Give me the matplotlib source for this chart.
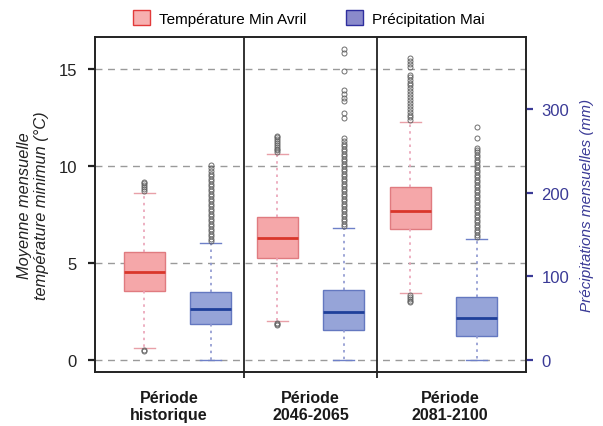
import matplotlib
matplotlib.use("Agg")
import matplotlib.pyplot as plt
from matplotlib.patches import Patch

plt.rcParams['font.family'] = ['Liberation Sans', 'DejaVu Sans']

# ---------------- data ----------------
periods = ["Période\nhistorique", "Période\n2046-2065", "Période\n2081-2100"]
series_names = ["Température Min Avril", "Précipitation Mai"]

# Temperature (°C) box stats per period
temp_q1 = [3.54, 5.24, 6.75]
temp_med = [4.55, 6.27, 7.70]
temp_q3 = [5.55, 7.36, 8.93]
temp_wlo = [0.60, 1.99, 3.44]
temp_whi = [8.60, 10.60, 12.28]
temp_fliers_hist = [0.45, 0.50, 8.70, 8.80, 8.90, 9.00, 9.10, 9.15]
temp_fliers_2046 = [1.78, 1.85, 1.90, 10.7, 10.8, 10.9, 11.0, 11.1, 11.2, 11.3, 11.4, 11.5, 11.55]
temp_fliers_2081 = [2.97, 3.05, 3.15, 3.25, 3.35, 12.35, 12.5, 12.65, 12.8, 12.95, 13.1, 13.25,
                    13.4, 13.55, 13.7, 13.85, 14.0, 14.15, 14.3, 14.45, 14.6, 14.7,
                    15.1, 15.25, 15.4, 15.55]

# Precipitation (mm) box stats per period
prec_q1 = [42.7, 35.5, 28.7]
prec_med = [61.0, 57.9, 50.0]
prec_q3 = [81.8, 83.8, 75.0]
prec_wlo = [0.0, 0.0, 0.0]
prec_whi = [139.7, 157.7, 144.9]
prec_fliers_hist = [142, 145, 148, 151, 154, 157, 160, 163, 166, 169, 172, 175, 178, 181, 184,
                    187, 190, 193, 196, 199, 202, 205, 208, 211, 214, 217, 220, 223, 226, 230, 233]
prec_fliers_2046 = [160, 163, 166, 169, 172, 175, 178, 181, 184, 187, 190, 193, 196, 199, 202,
                    205, 208, 211, 214, 217, 220, 223, 226, 229, 232, 235, 238, 241, 244, 247,
                    250, 253, 256, 259, 262, 266, 290, 296, 310, 314, 318, 323, 346, 368, 373]
prec_fliers_2081 = [147, 150, 153, 156, 159, 162, 165, 168, 171, 174, 177, 180, 183, 186, 189,
                    192, 195, 198, 201, 204, 207, 210, 213, 216, 219, 222, 225, 228, 231, 234,
                    237, 240, 243, 246, 249, 252, 254, 266, 279]

temp_fliers = [temp_fliers_hist, temp_fliers_2046, temp_fliers_2081]
prec_fliers = [prec_fliers_hist, prec_fliers_2046, prec_fliers_2081]

# ---------------- figure ----------------
fig = plt.figure(figsize=(6.03, 4.27), dpi=100)
ax = fig.add_axes([0.1575, 0.1265, 0.7148, 0.7845])
ax2 = ax.twinx()

temp_stats = [dict(q1=temp_q1[i], med=temp_med[i], q3=temp_q3[i], whislo=temp_wlo[i],
                   whishi=temp_whi[i], fliers=temp_fliers[i]) for i in range(3)]
prec_stats = [dict(q1=prec_q1[i], med=prec_med[i], q3=prec_q3[i], whislo=prec_wlo[i],
                   whishi=prec_whi[i], fliers=prec_fliers[i]) for i in range(3)]

temp_pos = [1, 3, 5]
prec_pos = [2, 4, 6]
label_pos = [1.37, 3.5, 5.6]
bw = 0.62

flier = dict(marker='o', markersize=3.6, markerfacecolor='none', markeredgecolor='#5e5e5e',
             markeredgewidth=0.7, alpha=0.9)

ax.bxp(temp_stats, positions=temp_pos, widths=bw, patch_artist=True,
       boxprops=dict(facecolor='#F5A7A9', edgecolor='#E07B80', linewidth=1.0),
       medianprops=dict(color='#D9362B', linewidth=2.0),
       whiskerprops=dict(color='#EAA2B6', linestyle=(0, (1.5, 2.5)), linewidth=1.2),
       capprops=dict(color='#E8A0A8', linewidth=1.0),
       flierprops=flier, capwidths=0.32, zorder=3)

ax2.bxp(prec_stats, positions=prec_pos, widths=bw, patch_artist=True,
        boxprops=dict(facecolor='#96A4D8', edgecolor='#6478C0', linewidth=1.0),
        medianprops=dict(color='#1F3F9A', linewidth=2.0),
        whiskerprops=dict(color='#8C96D0', linestyle=(0, (1.5, 2.5)), linewidth=1.2),
        capprops=dict(color='#6E80C8', linewidth=1.0),
        flierprops=flier, capwidths=0.32, zorder=3)

# axes limits & grid
ax.set_xlim(0.26, 6.74)
ax.set_ylim(-0.62, 16.65)
ax2.set_ylim(-14.4, 386.8)

for y in [0, 5, 10, 15]:
    ax.axhline(y, color='#9a9a9a', linestyle=(0, (5, 4)), linewidth=1.0, zorder=1)

for xd in [2.5, 4.5]:
    ax.axvline(xd, color='#222222', linewidth=1.3, zorder=4)

# ticks
ax.set_yticks([0, 5, 10, 15])
ax.set_yticklabels(['0', '5', '10', '15'])
ax.tick_params(axis='y', direction='out', length=5, width=1.6, labelsize=12, pad=8,
               colors='#222222')
ax.set_xticks([2.5, 4.5])
ax.set_xticklabels(['', ''])
ax.tick_params(axis='x', direction='out', length=4, width=1.3, colors='#222222')

ax2.set_yticks([0, 100, 200, 300])
ax2.tick_params(axis='y', direction='out', length=5, width=1.6, labelsize=12, pad=6,
                colors='#3A3A96')

for sp in list(ax.spines.values()) + list(ax2.spines.values()):
    sp.set_linewidth(1.2)
    sp.set_color('#222222')

# group labels
for i, lab in enumerate(periods):
    ax.text(label_pos[i], -1.55, lab, ha='center', va='top', fontsize=11.5,
            fontweight='bold', color='#1a1a1a', linespacing=1.15,
            transform=ax.transData)

# axis labels
ax.set_ylabel("Moyenne mensuelle\ntempérature minimun (°C)", fontsize=11.8,
              fontstyle='italic', color='#222222', labelpad=7, linespacing=1.15)
ax2.set_ylabel("Précipitations mensuelles (mm)", fontsize=11, fontstyle='italic',
               color='#3A3A96', labelpad=8)

# legend
handles = [Patch(facecolor='#F7B0B0', edgecolor='#E23A3A', linewidth=1.0),
           Patch(facecolor='#8A8ACB', edgecolor='#2E2E9E', linewidth=1.0)]
fig.legend(handles, series_names, loc='center', bbox_to_anchor=(0.512, 0.955), ncol=2,
           frameon=False, fontsize=11, handlelength=1.1, handleheight=1.1,
           columnspacing=2.6, handletextpad=0.6)

fig.savefig('out.png', dpi=100)
